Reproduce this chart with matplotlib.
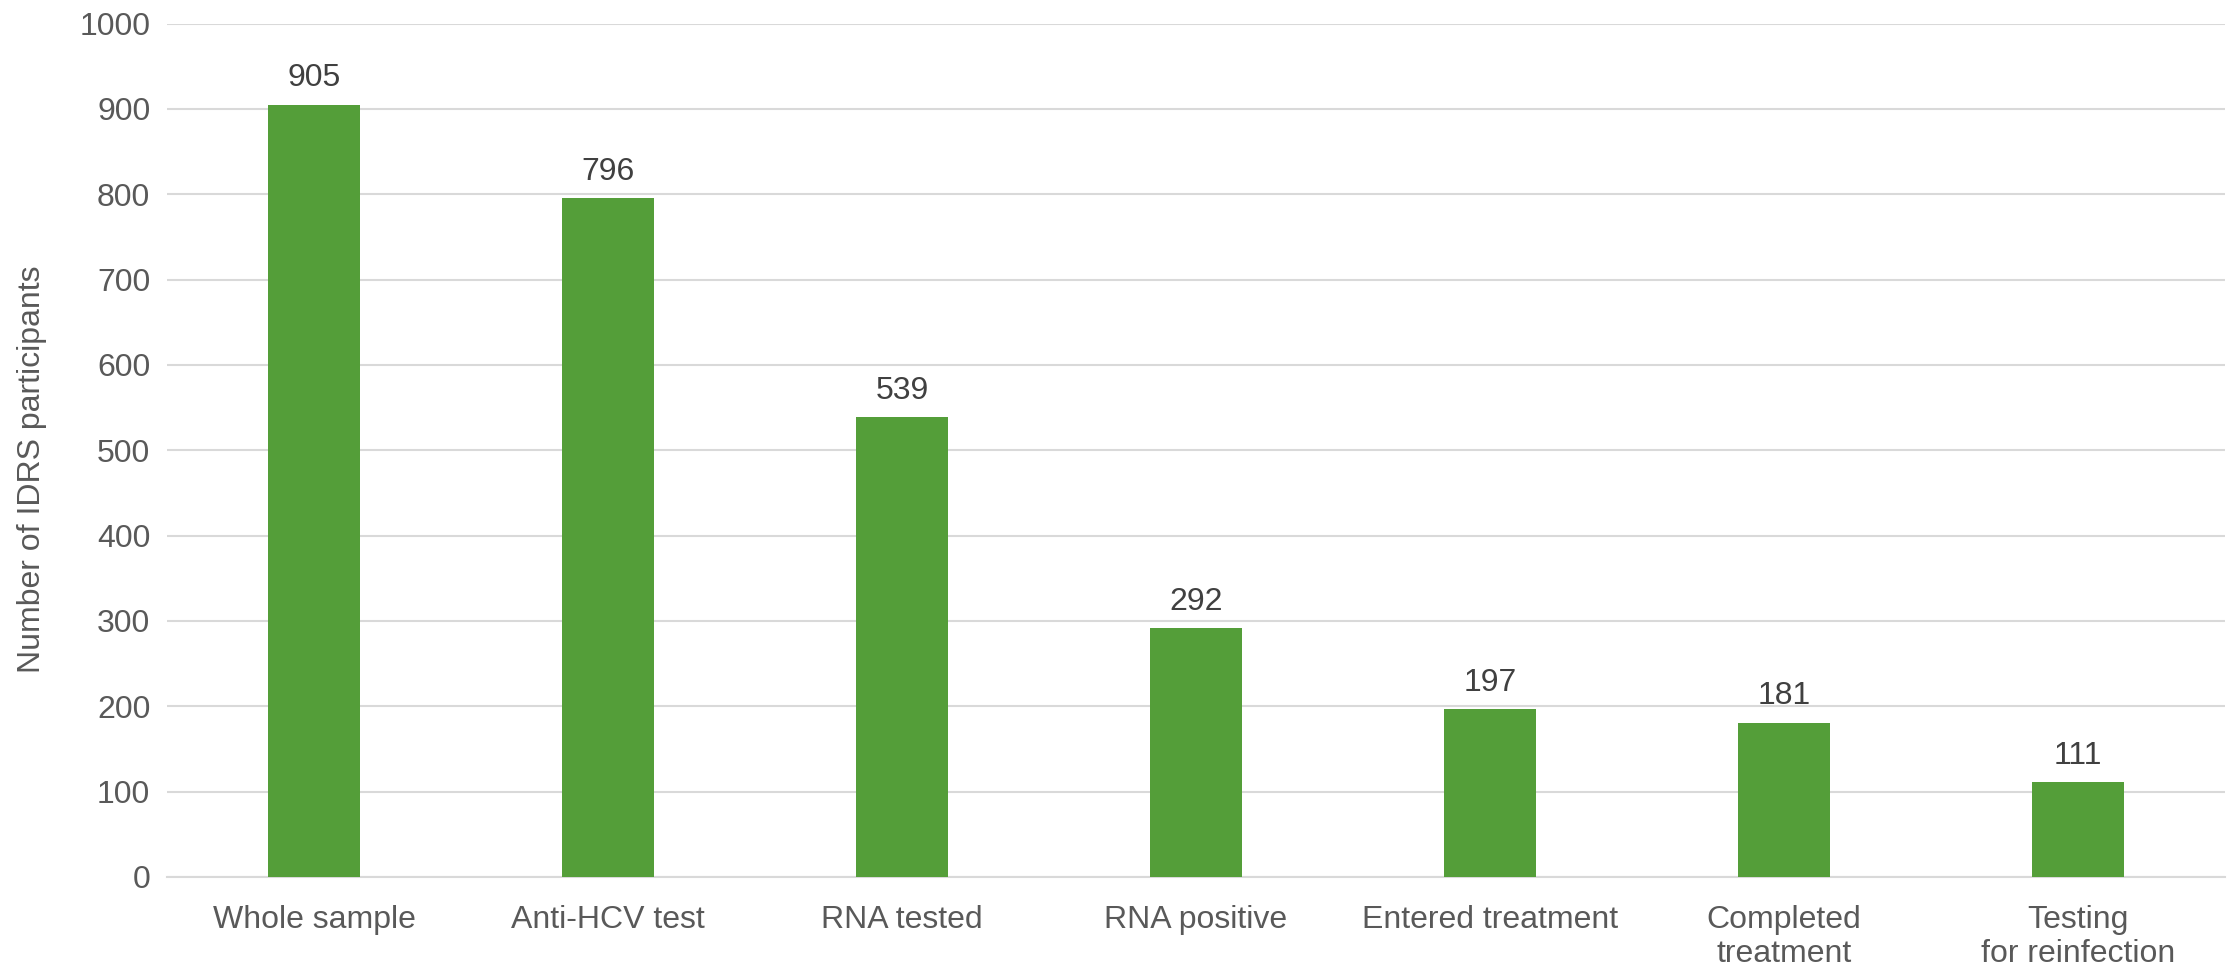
import matplotlib
matplotlib.use("Agg")
import matplotlib.pyplot as plt

categories = ["Whole sample", "Anti-HCV test", "RNA tested", "RNA positive",
              "Entered treatment", "Completed\ntreatment", "Testing\nfor reinfection"]
values = [905, 796, 539, 292, 197, 181, 111]
yticks = [0, 100, 200, 300, 400, 500, 600, 700, 800, 900, 1000]

plt.rcParams['font.family'] = ['Liberation Sans', 'DejaVu Sans']

fig = plt.figure(figsize=(22.29, 9.67), dpi=100)
ax = fig.add_axes([167/2229, (967-877)/967, (2225-167)/2229, (877-23.5)/967])

x = list(range(len(categories)))
bars = ax.bar(x, values, width=0.313, color="#549E39", zorder=3)
for xi, v in zip(x, values):
    ax.text(xi, v + 13, str(v), ha="center", va="bottom", fontsize=23, color="#404040")

ax.set_xlim(-0.5, len(categories) - 0.5)
ax.set_ylim(0, 1000)
ax.set_yticks(yticks)
ax.set_yticklabels([str(t) for t in yticks], fontsize=23, color="#595959")
ax.set_xticks(x)
ax.set_xticklabels(categories, fontsize=23, color="#595959", linespacing=1.2)
ax.tick_params(axis="both", length=0)
ax.tick_params(axis="x", pad=20)
ax.tick_params(axis="y", pad=12)
ax.grid(axis="y", color="#D9D9D9", linewidth=1.5, zorder=0)
for s in ["top", "right", "left"]:
    ax.spines[s].set_visible(False)
ax.spines["bottom"].set_color("#D9D9D9")
ax.spines["bottom"].set_linewidth(1.5)
ax.set_ylabel("Number of IDRS participants", fontsize=23, color="#595959")
ax.yaxis.set_label_coords(-0.0585, 0.478)

fig.savefig("out.png", dpi=100)
